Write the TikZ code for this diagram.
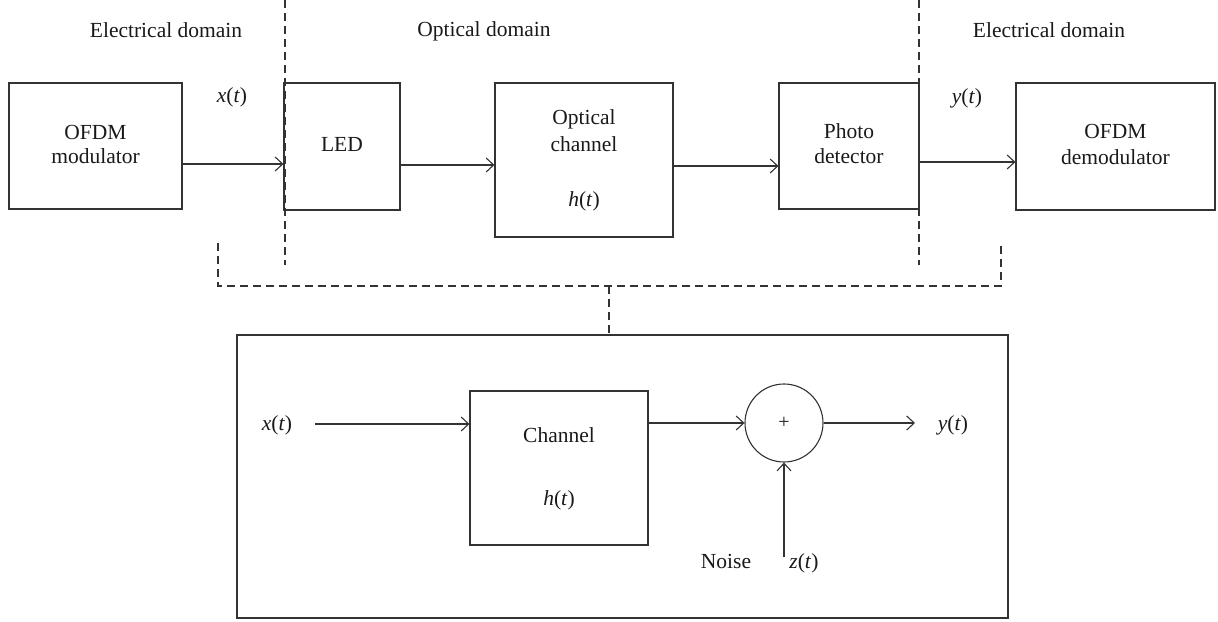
\documentclass[tikz,border=0pt]{standalone}
\usepackage{fontspec}
\setmainfont{Liberation Serif}
\usetikzlibrary{arrows.meta,calc}
\newcommand{\sig}[1]{\textit{#1}(\textit{t})}
\begin{document}
\begin{tikzpicture}[x=1bp,y=-1bp,
  every node/.style={font=\fontsize{21.5bp}{25bp}\selectfont, text=black!90},
  blk/.style={draw=black!80, line width=1.1bp, rectangle, inner sep=0pt},
  lbl/.style={anchor=base, inner sep=0pt},
  conn/.style={draw=black!80, line width=1.1bp, -{Straight Barb[length=7.5bp,width=14bp,line width=1.1bp]}},
  dline/.style={draw=black!80, line width=1.1bp, dash pattern=on 8bp off 5bp}]
\useasboundingbox (0,0) rectangle (1218,622);

% top row boxes
\node[blk, minimum width=173bp, minimum height=126bp] (mod) at (95.5,146) {};
\node[blk, minimum width=116bp, minimum height=127bp] (led) at (342,146.5) {};
\node[blk, minimum width=178bp, minimum height=154bp] (oc) at (584,160) {};
\node[blk, minimum width=140bp, minimum height=126bp] (pd) at (849,146) {};
\node[blk, minimum width=199bp, minimum height=127bp] (dem) at (1115.5,146.5) {};

% texts in top boxes
\node[lbl] (t1) at (95.5,140) {OFDM};
\node[lbl] (t2) at (95.5,164) {modulator};
\node[lbl] (t3) at (342,152) {LED};
\node[lbl] (t4) at (584,125) {Optical};
\node[lbl] (t5) at (584,152) {channel};
\node[lbl] (t6) at (584,207) {\sig{h}};
\node[lbl] (t7) at (849,139) {Photo};
\node[lbl] (t8) at (849,164) {detector};
\node[lbl] (t9) at (1115.5,139) {OFDM};
\node[lbl] (t10) at (1115.5,165) {demodulator};

% domain labels
\node[lbl] (d1) at (166,38) {Electrical domain};
\node[lbl] (d2) at (484,37) {Optical domain};
\node[lbl] (d3) at (1049,38) {Electrical domain};
\node[lbl] (xt) at (232,103) {\sig{x}};
\node[lbl] (yt) at (967,104) {\sig{y}};

% top connectors
\coordinate (a1) at (182,164);
\coordinate (a2) at (400,165);
\coordinate (a3) at (673,166);
\coordinate (a4) at (919,162);
\draw[conn] (a1) -- (led.west |- a1);
\draw[conn] (a2) -- (oc.west |- a2);
\draw[conn] (a3) -- (pd.west |- a3);
\draw[conn] (a4) -- (dem.west |- a4);

% dashed lines
\coordinate (v1a) at (285,0);
\coordinate (v1b) at (285,265);
\coordinate (v2a) at (919,0);
\coordinate (v2b) at (919,265);
\draw[dline] (v1a) -- (v1b);
\draw[dline] (v2a) -- (v2b);
\coordinate (bl) at (218,243);
\coordinate (br) at (1001,243);
\coordinate (bm) at (609,286);
\draw[dline] (bl) -- (218,286) -- (1001,286) -- (br);

% bottom box
\node[blk, minimum width=771bp, minimum height=283bp] (big) at (622.5,476.5) {};
\draw[dline] (bm) -- (bm |- big.north);

\node[blk, minimum width=178bp, minimum height=154bp] (ch) at (559,468) {};
\node[lbl] (c1) at (559,442) {Channel};
\node[lbl] (c2) at (559,505) {\sig{h}};
\node[draw=black!80, line width=1.1bp, circle, minimum size=78bp, inner sep=0pt, font=\fontsize{20bp}{22bp}\selectfont] (sum) at (784,423) {+};

\node[lbl] (bx) at (277,430) {\sig{x}};
\node[lbl] (by) at (953,430) {\sig{y}};
\node[lbl] (noise) at (726,568) {Noise};
\node[lbl] (zt) at (804,568) {\sig{z}};

\coordinate (xin) at (315,424);
\coordinate (yout) at (915,423);
\coordinate (zin) at (784,557);
\draw[conn] (xin) -- (ch.west |- xin);
\draw[conn] (ch.east |- sum.west) -- (sum.west);
\draw[conn] (sum.east) -- (yout);
\draw[conn] (zin) -- (sum.south);
\end{tikzpicture}
\end{document}
